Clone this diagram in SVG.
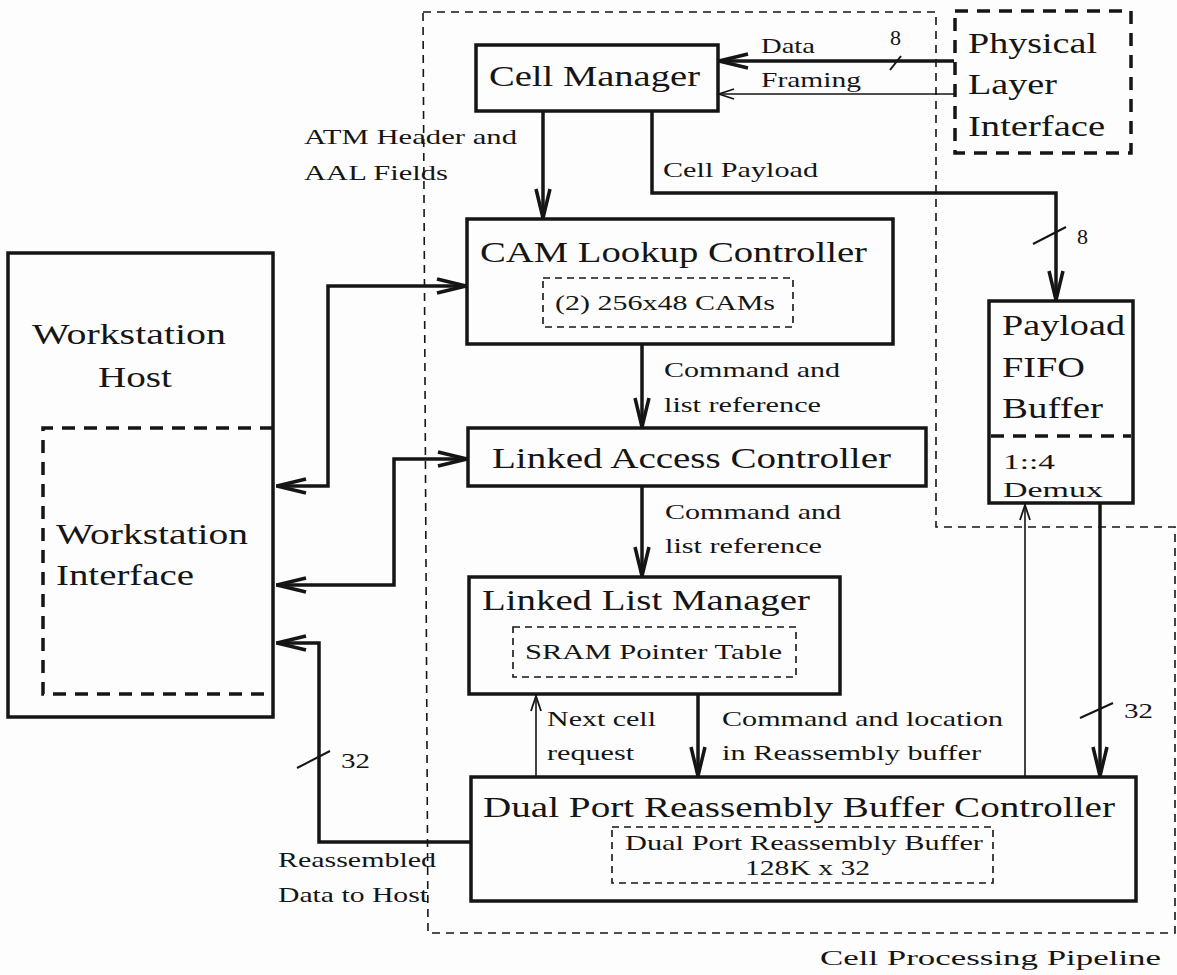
<svg xmlns="http://www.w3.org/2000/svg" width="1177" height="975" viewBox="0 0 1177 975">
<style>
text{font-family:"Liberation Serif","DejaVu Serif",serif;fill:#151515}
.big{font-size:29px}
.mid{font-size:22px}
.box{fill:none;stroke:#151515;stroke-width:3.5}
.inner{fill:none;stroke:#151515;stroke-width:1.6;stroke-dasharray:7 5}
.thickdash{fill:none;stroke:#151515;stroke-width:3.5;stroke-dasharray:13 9}
.pipe{fill:none;stroke:#151515;stroke-width:1.6;stroke-dasharray:8 6}
.w{fill:none;stroke:#151515;stroke-width:3.5}
.t{fill:none;stroke:#151515;stroke-width:1.6}
.slash{stroke:#151515;stroke-width:2}
</style>
<defs>
<marker id="ah" markerUnits="userSpaceOnUse" viewBox="-34 -10 36 20" markerWidth="36" markerHeight="20" refX="0" refY="0" orient="auto-start-reverse"><path d="M-30,-7 L-1,0 L-30,7" fill="none" stroke="#151515" stroke-width="3.5"/></marker>
<marker id="as" markerUnits="userSpaceOnUse" viewBox="-20 -8 22 16" markerWidth="22" markerHeight="16" refX="0" refY="0" orient="auto-start-reverse"><path d="M-16,-5 L-1,0 L-16,5" fill="none" stroke="#151515" stroke-width="1.8"/></marker>
</defs>
<rect width="1177" height="975" fill="#fdfdfd"/>

<g id="pipeline">
<path class="pipe" d="M423,12 H936 V527 H1175 V933 H428 Z"/>
<text class="mid" x="820" y="965" font-size="25" textLength="341" lengthAdjust="spacingAndGlyphs">Cell Processing Pipeline</text>
</g>

<g id="cell-manager">
<rect class="box" x="476" y="45" width="242" height="66"/>
<text class="big" x="489" y="86" textLength="211" lengthAdjust="spacingAndGlyphs">Cell Manager</text>
</g>

<g id="physical-layer">
<rect class="thickdash" x="955" y="11" width="176" height="142"/>
<text class="big" x="968" y="53" font-size="30" textLength="129" lengthAdjust="spacingAndGlyphs">Physical</text>
<text class="big" x="968" y="94" font-size="30" textLength="89" lengthAdjust="spacingAndGlyphs">Layer</text>
<text class="big" x="968" y="136" font-size="30" textLength="137" lengthAdjust="spacingAndGlyphs">Interface</text>
</g>

<g id="cam-lookup">
<rect class="box" x="467" y="219" width="426" height="125"/>
<text class="big" x="480" y="262" textLength="387" lengthAdjust="spacingAndGlyphs">CAM Lookup Controller</text>
<rect class="inner" x="543" y="278" width="250" height="49"/>
<text class="mid" x="555" y="310" font-size="21" textLength="220" lengthAdjust="spacingAndGlyphs">(2) 256x48 CAMs</text>
</g>

<g id="linked-access">
<rect class="box" x="468" y="428" width="458" height="58"/>
<text class="big" x="492" y="468" textLength="399" lengthAdjust="spacingAndGlyphs">Linked Access Controller</text>
</g>

<g id="linked-list">
<rect class="box" x="469" y="577" width="371" height="117"/>
<text class="big" x="482" y="610" textLength="328" lengthAdjust="spacingAndGlyphs">Linked List Manager</text>
<rect class="inner" x="513" y="627" width="283" height="50"/>
<text class="mid" x="525" y="659" textLength="257" lengthAdjust="spacingAndGlyphs">SRAM Pointer Table</text>
</g>

<g id="dual-port">
<rect class="box" x="471" y="777" width="665" height="124"/>
<text class="big" x="483" y="817" textLength="632" lengthAdjust="spacingAndGlyphs">Dual Port Reassembly Buffer Controller</text>
<rect class="inner" x="612" y="827" width="381" height="56"/>
<text class="mid" x="625" y="850" textLength="358" lengthAdjust="spacingAndGlyphs">Dual Port Reassembly Buffer</text>
<text class="mid" x="745" y="875" textLength="125" lengthAdjust="spacingAndGlyphs">128K x 32</text>
</g>

<g id="payload-fifo">
<rect class="box" x="989" y="301" width="144" height="202"/>
<line class="thickdash" x1="991" y1="436" x2="1131" y2="436" stroke-width="3"/>
<text class="big" x="1002" y="335" font-size="27" textLength="123" lengthAdjust="spacingAndGlyphs">Payload</text>
<text class="big" x="1002" y="377" font-size="27" textLength="83" lengthAdjust="spacingAndGlyphs">FIFO</text>
<text class="big" x="1002" y="418" font-size="27" textLength="101" lengthAdjust="spacingAndGlyphs">Buffer</text>
<text class="mid" x="1003" y="469" font-size="24" textLength="52" lengthAdjust="spacingAndGlyphs">1::4</text>
<text class="mid" x="1003" y="497" font-size="24" textLength="100" lengthAdjust="spacingAndGlyphs">Demux</text>
</g>

<g id="workstation-host">
<rect class="box" x="8" y="253" width="265" height="464"/>
<text class="big" x="32" y="344" textLength="194" lengthAdjust="spacingAndGlyphs">Workstation</text>
<text class="big" x="98" y="387" textLength="74" lengthAdjust="spacingAndGlyphs">Host</text>
</g>

<g id="workstation-interface">
<path class="thickdash" d="M273,428 H43 V694 H273" stroke-width="3"/>
<text class="big" x="56" y="544" textLength="192" lengthAdjust="spacingAndGlyphs">Workstation</text>
<text class="big" x="56" y="585" textLength="138" lengthAdjust="spacingAndGlyphs">Interface</text>
</g>

<g id="connectors">
<path class="w" d="M954,61 H718" marker-end="url(#ah)"/>
<line class="slash" x1="890" y1="70" x2="901" y2="56"/>
<text class="mid" x="890" y="45" font-size="19">8</text>
<text class="mid" x="761" y="53" textLength="54" lengthAdjust="spacingAndGlyphs">Data</text>
<path class="t" d="M954,94 H718" marker-end="url(#as)"/>
<text class="mid" x="761" y="87" textLength="100" lengthAdjust="spacingAndGlyphs">Framing</text>

<path class="w" d="M543,111 V219" marker-end="url(#ah)"/>
<text class="mid" x="304" y="144" textLength="213" lengthAdjust="spacingAndGlyphs">ATM Header and</text>
<text class="mid" x="304" y="180" textLength="144" lengthAdjust="spacingAndGlyphs">AAL Fields</text>

<path class="w" d="M652,111 V193 H1056 V301" marker-end="url(#ah)"/>
<text class="mid" x="663" y="177" textLength="155" lengthAdjust="spacingAndGlyphs">Cell Payload</text>
<line class="slash" x1="1033" y1="244" x2="1066" y2="227"/>
<text class="mid" x="1077" y="244">8</text>

<path class="w" d="M276,486 H328 V286 H467" marker-start="url(#ah)" marker-end="url(#ah)"/>
<path class="w" d="M276,585 H394 V459 H468" marker-start="url(#ah)" marker-end="url(#ah)"/>

<path class="w" d="M642,344 V428" marker-end="url(#ah)"/>
<text class="mid" x="664" y="377" textLength="176" lengthAdjust="spacingAndGlyphs">Command and</text>
<text class="mid" x="664" y="412" textLength="157" lengthAdjust="spacingAndGlyphs">list reference</text>

<path class="w" d="M642,486 V577" marker-end="url(#ah)"/>
<text class="mid" x="665" y="519" textLength="176" lengthAdjust="spacingAndGlyphs">Command and</text>
<text class="mid" x="665" y="553" textLength="157" lengthAdjust="spacingAndGlyphs">list reference</text>

<path class="t" d="M536,777 V695" marker-end="url(#as)"/>
<text class="mid" x="547" y="726" textLength="109" lengthAdjust="spacingAndGlyphs">Next cell</text>
<text class="mid" x="547" y="760" textLength="87" lengthAdjust="spacingAndGlyphs">request</text>

<path class="w" d="M698,694 V777" marker-end="url(#ah)"/>
<text class="mid" x="722" y="726" textLength="281" lengthAdjust="spacingAndGlyphs">Command and location</text>
<text class="mid" x="722" y="760" textLength="259" lengthAdjust="spacingAndGlyphs">in Reassembly buffer</text>

<path class="t" d="M1025,777 V504" marker-end="url(#as)"/>
<path class="w" d="M1100,503 V777" marker-end="url(#ah)"/>
<line class="slash" x1="1080" y1="718" x2="1113" y2="703"/>
<text class="mid" x="1124" y="718" textLength="29" lengthAdjust="spacingAndGlyphs">32</text>

<path class="w" d="M471,842 H319 V643 H276" marker-end="url(#ah)"/>
<line class="slash" x1="297" y1="768" x2="330" y2="751"/>
<text class="mid" x="341" y="768" textLength="29" lengthAdjust="spacingAndGlyphs">32</text>
<text class="mid" x="278" y="867" textLength="158" lengthAdjust="spacingAndGlyphs">Reassembled</text>
<text class="mid" x="278" y="902" textLength="150" lengthAdjust="spacingAndGlyphs">Data to Host</text>
</g>
</svg>
